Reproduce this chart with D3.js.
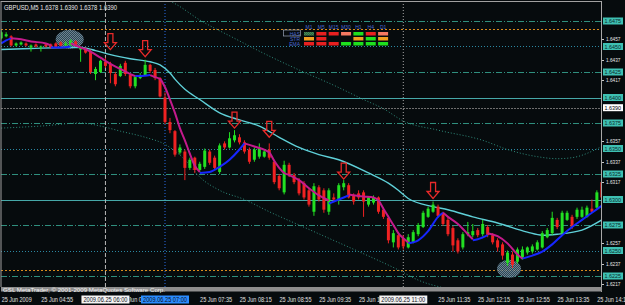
<!DOCTYPE html>
<html><head><meta charset="utf-8">
<script src="https://cdn.jsdelivr.net/npm/d3@7"></script>
<style>
html,body{margin:0;padding:0;background:#000;}
svg{display:block;}
text{font-family:"Liberation Sans",Arial,sans-serif;}
</style></head><body>
<svg id="c" width="625" height="305"></svg>
<script>
// ---------------- DATA ----------------
const symbolTitle = "GBPUSD,M5  1.6378 1.6390 1.6378 1.6390";
const copyright = "GSL MetaTrader, \u00A9 2001-2009 MetaQuotes Software Corp.";
const firstBarTime = "2009-06-25 04:15";
const barMinutes = 5;
// [open, high, low, close] per M5 bar
const candles = [
[1.6458,1.6466,1.6457,1.6464],[1.6460,1.6464,1.6459,1.6462],[1.6460,1.6461,1.6450,1.6451],[1.6451,1.6454,1.6450,1.6453],
[1.6452,1.6455,1.6451,1.6454],[1.6453,1.6454,1.6450,1.6451],[1.6449,1.6452,1.6445,1.6451],[1.6452,1.6453,1.6449,1.6450],
[1.6449,1.6451,1.6445,1.6450],[1.6452,1.6453,1.6449,1.6450],[1.6452,1.6453,1.6448,1.6449],[1.6453,1.6454,1.6448,1.6449],
[1.6454,1.6455,1.6450,1.6451],[1.6451,1.6455,1.6450,1.6453],[1.6451,1.6457,1.6450,1.6456],[1.6455,1.6456,1.6450,1.6451],
[1.6447,1.6450,1.6435,1.6449],[1.6448,1.6449,1.6443,1.6444],[1.6445,1.6447,1.6423,1.6425],[1.6423,1.6430,1.6417,1.6428],
[1.6425,1.6437,1.6424,1.6436],[1.6435,1.6439,1.6429,1.6431],[1.6433,1.6435,1.6414,1.6424],[1.6423,1.6425,1.6411,1.6413],
[1.6421,1.6433,1.6420,1.6431],[1.6434,1.6436,1.6421,1.6423],[1.6422,1.6423,1.6409,1.6411],[1.6411,1.6421,1.6409,1.6420],
[1.6419,1.6424,1.6418,1.6422],[1.6422,1.6437,1.6421,1.6432],[1.6432,1.6433,1.6424,1.6426],[1.6427,1.6429,1.6417,1.6419],
[1.6419,1.6420,1.6400,1.6401],[1.6400,1.6405,1.6374,1.6376],[1.6376,1.6380,1.6365,1.6368],[1.6367,1.6368,1.6342,1.6344],
[1.6346,1.6354,1.6344,1.6351],[1.6347,1.6349,1.6319,1.6331],[1.6331,1.6341,1.6329,1.6339],[1.6341,1.6342,1.6326,1.6329],
[1.6329,1.6337,1.6327,1.6335],[1.6332,1.6350,1.6330,1.6348],[1.6347,1.6349,1.6334,1.6336],[1.6341,1.6343,1.6329,1.6331],
[1.6327,1.6355,1.6325,1.6353],[1.6355,1.6357,1.6349,1.6351],[1.6351,1.6366,1.6350,1.6360],[1.6358,1.6368,1.6356,1.6363],
[1.6361,1.6364,1.6354,1.6356],[1.6356,1.6358,1.6345,1.6347],[1.6349,1.6351,1.6335,1.6337],[1.6339,1.6351,1.6337,1.6349],
[1.6342,1.6355,1.6340,1.6351],[1.6342,1.6349,1.6341,1.6347],[1.6349,1.6355,1.6339,1.6341],[1.6337,1.6339,1.6315,1.6317],
[1.6323,1.6325,1.6309,1.6311],[1.6307,1.6338,1.6305,1.6334],[1.6334,1.6336,1.6322,1.6324],[1.6324,1.6326,1.6315,1.6317],
[1.6319,1.6321,1.6304,1.6306],[1.6316,1.6318,1.6300,1.6302],[1.6309,1.6311,1.6293,1.6295],[1.6288,1.6316,1.6284,1.6313],
[1.6312,1.6314,1.6298,1.6300],[1.6309,1.6311,1.6287,1.6290],[1.6288,1.6311,1.6285,1.6309],[1.6302,1.6306,1.6298,1.6300],
[1.6300,1.6316,1.6295,1.6314],[1.6312,1.6319,1.6309,1.6316],[1.6314,1.6316,1.6301,1.6302],[1.6304,1.6306,1.6295,1.6298],
[1.6306,1.6309,1.6300,1.6302],[1.6307,1.6309,1.6283,1.6298],[1.6295,1.6303,1.6293,1.6302],[1.6297,1.6304,1.6295,1.6302],
[1.6302,1.6303,1.6286,1.6288],[1.6290,1.6292,1.6281,1.6283],[1.6282,1.6284,1.6257,1.6260],[1.6258,1.6270,1.6253,1.6267],
[1.6265,1.6267,1.6251,1.6253],[1.6262,1.6265,1.6251,1.6254],[1.6253,1.6266,1.6252,1.6263],[1.6258,1.6270,1.6257,1.6268],
[1.6266,1.6277,1.6264,1.6275],[1.6273,1.6289,1.6272,1.6287],[1.6283,1.6293,1.6282,1.6291],[1.6288,1.6298,1.6287,1.6295],
[1.6293,1.6295,1.6282,1.6284],[1.6286,1.6288,1.6274,1.6276],[1.6280,1.6282,1.6264,1.6266],[1.6272,1.6274,1.6249,1.6255],
[1.6260,1.6262,1.6247,1.6249],[1.6253,1.6268,1.6251,1.6266],[1.6266,1.6278,1.6264,1.6268],[1.6265,1.6276,1.6263,1.6269],
[1.6270,1.6272,1.6263,1.6265],[1.6266,1.6280,1.6264,1.6276],[1.6273,1.6275,1.6263,1.6265],[1.6265,1.6267,1.6256,1.6258],
[1.6260,1.6262,1.6249,1.6253],[1.6256,1.6258,1.6241,1.6245],[1.6238,1.6250,1.6235,1.6248],[1.6246,1.6249,1.6233,1.6236],
[1.6239,1.6253,1.6237,1.6251],[1.6243,1.6254,1.6241,1.6251],[1.6248,1.6254,1.6246,1.6253],[1.6249,1.6256,1.6247,1.6254],
[1.6251,1.6260,1.6250,1.6258],[1.6253,1.6269,1.6252,1.6267],[1.6263,1.6272,1.6262,1.6270],[1.6267,1.6288,1.6265,1.6282],
[1.6280,1.6282,1.6271,1.6273],[1.6267,1.6289,1.6265,1.6287],[1.6280,1.6289,1.6279,1.6287],[1.6283,1.6285,1.6271,1.6273],
[1.6283,1.6292,1.6281,1.6290],[1.6283,1.6293,1.6282,1.6290],[1.6283,1.6294,1.6282,1.6292],[1.6291,1.6300,1.6287,1.6288],
[1.6292,1.6309,1.6291,1.6307],[1.6317,1.6321,1.6301,1.6302]
];
// fast MA, rising segments [bar, price]
const fastUp = [
 [[0,1.6453],[1,1.6456],[2,1.6458]],
 [[10,1.6449],[12,1.6449],[14,1.6450]],
 [[27,1.6421],[28,1.6421],[30,1.6422]],
 [[40,1.6326],[42,1.6327],[44,1.6332],[46,1.6339],[48,1.6349],[49,1.6355]],
 [[66,1.6296],[68,1.6300],[70,1.6304]],
 [[82,1.6257],[84,1.6260],[86,1.6269],[88,1.6283],[89,1.6287]],
 [[95,1.6260],[96,1.6261],[98,1.6265]],
 [[105,1.6242],[107,1.6245],[109,1.6249],[111,1.6256],[113,1.6265],[115,1.6273],[117,1.6280],[119,1.6287],[121,1.6294]]
];
// fast MA, falling segments
const fastDown = [
 [[2,1.6458],[4,1.6457],[6,1.6455],[9,1.6453],[10,1.6451]],
 [[14,1.6453],[16,1.6449],[18,1.6445],[20,1.6439],[22,1.6433],[24,1.6428],[26,1.6423],[27,1.6421]],
 [[30,1.6422],[31,1.6420],[32,1.6418],[33,1.6410],[34,1.6398],[35,1.6385],[36,1.6370],[37,1.6358],[38,1.6345],[39,1.6333],[40,1.6327]],
 [[49,1.6355],[51,1.6352],[54,1.6346],[55,1.6338],[56,1.6331],[57,1.6326],[58,1.6324],[60,1.6319],[62,1.6311],[64,1.6304],[66,1.6299]],
 [[70,1.6305],[73,1.6303],[75,1.6302],[76,1.6299],[77,1.6291],[78,1.6283],[79,1.6275],[80,1.6267],[81,1.6262],[82,1.6258]],
 [[89,1.6287],[90,1.6283],[92,1.6276],[94,1.6266],[95,1.6261]],
 [[98,1.6267],[100,1.6264],[102,1.6257],[104,1.6246],[105,1.6242]]
];
// slow MA
const slowMA = [[0,1.6447],[6,1.6448],[13,1.6449],[16,1.6449],[19,1.6446],[22,1.6442],[26,1.6438],[30,1.6435],[32,1.6432],
 [34,1.6424],[35,1.6418],[37,1.6408],[40,1.6398],[44,1.6385],[48,1.6378],[52,1.6372],[56,1.6361],[60,1.6351],[64,1.6344],
 [68,1.6339],[74,1.6326],[78,1.6316],[80,1.6309],[82,1.6301],[87,1.6293],[90,1.6290],[95,1.6283],[100,1.6277],[106,1.6268],
 [109,1.6265],[112,1.6266],[117,1.6270],[121,1.6280]];
// envelope bands
const upperBand = [[30,1.6502],[35,1.6492],[40,1.6476],[47,1.6458],[53,1.6443],[60,1.6427],[67,1.6412],[73,1.6398],[77,1.6389],
 [81,1.6377],[88,1.6368],[97,1.6358],[102,1.6349],[108,1.6342],[112,1.6340],[115,1.6341],[121,1.6352]];
const lowerBand = [[0,1.6370],[8,1.6372],[16,1.6375],[20,1.6372],[24,1.6367],[29,1.6361],[33,1.6354],[37,1.6339],[40,1.6322],
 [44,1.6309],[49,1.6300],[54,1.6288],[60,1.6275],[66,1.6262],[72,1.6249],[80,1.6231],[84,1.6221],[91,1.6211],[97,1.6203]];
// sell arrows [bar, price of tip]
const sellArrows = [[22,1.6447],[29,1.6440],[47,1.6370],[54,1.6361],[69,1.6320],[87,1.6301]];
// highlighted zones [bar, price]
const zones = [[13.8,1.6457],[102.3,1.6232]];
// horizontal levels
const levels = [1.6475,1.6450,1.6425,1.6400,1.6375,1.6350,1.6325,1.6300,1.6275,1.6250,1.6225];
const levelKinds = ["dashdot","dot","dashdot","solid","dashdot","dot","dashdot","solid","dashdot","dot","dashdot"];
const orangeLevels = [1.6467,1.6231];
const bidPrice = 1.6390;
const priceTicks = [1.6457,1.6437,1.6417,1.6357,1.6337,1.6317,1.6257,1.6237,1.6217];
const timeTicks = ["04:55","05:35","06:15","06:55","07:35","08:15","08:55","09:35","10:15","10:55","11:35","12:15","12:55","13:35","14:15"];
const markerTimes = ["06:00","07:00","11:00"];
const markerKinds = ["white","blue","white"];
// signal table
const tfLabels = ["M1","M5","M15","M30","H1","H4","D1"];
const rowLabels = ["HAS","STR","EMA"];
const signals = [
 ["weakUp","down","down","weakDown","up","down","weakDown"],
 ["flat","down",null,null,"flat","up","flat"],
 ["down","down","down","up","up","up","up"]
];

// ---------------- DRAW ----------------
const W=625,H=305;
const svg=d3.select("#c");
const BG="#060b0d", GREEN="#22e022", RED="#f02222";
const parse=d3.timeParse("%Y-%m-%d %H:%M");
const t0=parse(firstBarTime);
const timeOf=i=>new Date(t0.getTime()+i*barMinutes*60000);
const atClock=s=>parse("2009-06-25 "+s);
const plot={l:1,r:601,t:1,b:287};
const x=d3.scaleTime().domain([timeOf(0),timeOf(121)]).range([1.2,1.2+121*4.964]);
const y=d3.scaleLinear().domain([1.6225,1.6475]).range([276,21]);
const xb=b=>x(timeOf(b));

svg.append("rect").attr("width",W).attr("height",H).attr("fill",BG);
const defs=svg.append("defs");
defs.append("clipPath").attr("id","pc").append("rect")
  .attr("x",plot.l).attr("y",plot.t).attr("width",plot.r-plot.l).attr("height",plot.b-plot.t);
const dp=defs.append("pattern").attr("id","dots").attr("width",2).attr("height",2).attr("patternUnits","userSpaceOnUse");
dp.append("rect").attr("width",2).attr("height",2).attr("fill","#33505f");
dp.append("rect").attr("width",1).attr("height",1).attr("fill","#7f98aa");
dp.append("rect").attr("x",1).attr("y",1).attr("width",1).attr("height",1).attr("fill","#7f98aa");

const g=svg.append("g").attr("clip-path","url(#pc)");

// level lines
const kindStyle={dashdot:{c:"#2f8f7e",d:"6,2,1,2"},dot:{c:"#2b88a2",d:"1,2"},solid:{c:"#46a8a8",d:null}};
g.selectAll(".lvl").data(levels).join("line")
  .attr("x1",plot.l).attr("x2",plot.r).attr("y1",d=>Math.round(y(d))+0.5).attr("y2",d=>Math.round(y(d))+0.5)
  .attr("stroke",(d,i)=>kindStyle[levelKinds[i]].c).attr("stroke-dasharray",(d,i)=>kindStyle[levelKinds[i]].d);
g.selectAll(".org").data(orangeLevels).join("line")
  .attr("x1",plot.l).attr("x2",plot.r).attr("y1",d=>Math.round(y(d))+0.5).attr("y2",d=>Math.round(y(d))+0.5)
  .attr("stroke","#d88a1c").attr("stroke-dasharray","2,2");
g.append("line").attr("x1",plot.l).attr("x2",plot.r)
  .attr("y1",Math.round(y(bidPrice))+0.5).attr("y2",Math.round(y(bidPrice))+0.5)
  .attr("stroke","#6e6e6e").attr("stroke-dasharray","2,1");

// vertical time markers
const vStyle=[{c:"#b8b8b8",d:"4,2"},{c:"#2a6ee8",d:"1,2"},{c:"#a8a8a8",d:"1,2"}];
g.selectAll(".vm").data(markerTimes).join("line")
  .attr("x1",d=>x(atClock(d))).attr("x2",d=>x(atClock(d))).attr("y1",plot.t).attr("y2",plot.b)
  .attr("stroke",(d,i)=>vStyle[i].c).attr("stroke-dasharray",(d,i)=>vStyle[i].d);

// bands
const line=d3.line().x(d=>xb(d[0])).y(d=>y(d[1])).curve(d3.curveMonotoneX);
[upperBand,lowerBand].forEach(b=>g.append("path").attr("d",line(b)).attr("fill","none")
  .attr("stroke","#2f8c7c").attr("stroke-width",1).attr("stroke-dasharray","1,2"));

// zones
g.selectAll(".zone").data(zones).join("ellipse")
  .attr("cx",d=>xb(d[0])).attr("cy",d=>y(d[1])).attr("rx",(d,i)=>i?12:14).attr("ry",(d,i)=>i?9:9.5)
  .attr("fill","url(#dots)").attr("opacity",0.85);

// slow MA
g.append("path").attr("d",line(slowMA)).attr("fill","none").attr("stroke","#5fd0d8").attr("stroke-width",1.4);

// candles
const cg=g.append("g");
cg.selectAll(".wick").data(candles).join("line")
  .attr("x1",(d,i)=>xb(i)).attr("x2",(d,i)=>xb(i)).attr("y1",d=>y(d[1])).attr("y2",d=>y(d[2]))
  .attr("stroke",d=>d[3]>=d[0]?GREEN:RED).attr("stroke-width",1);
cg.selectAll(".body").data(candles).join("rect")
  .attr("x",(d,i)=>xb(i)-1.5).attr("width",3)
  .attr("y",d=>y(Math.max(d[0],d[3]))).attr("height",d=>Math.max(1,Math.abs(y(d[0])-y(d[3]))))
  .attr("fill",d=>d[3]>=d[0]?GREEN:RED);

// fast MA
fastUp.forEach(s=>g.append("path").attr("d",line(s)).attr("fill","none").attr("stroke","#1626ff").attr("stroke-width",2));
fastDown.forEach(s=>g.append("path").attr("d",line(s)).attr("fill","none").attr("stroke","#c41a8c").attr("stroke-width",2));

// sell arrows
g.selectAll(".arr").data(sellArrows).join("path")
  .attr("transform",d=>`translate(${xb(d[0])},${y(d[1])})`)
  .attr("d","M0,0 L-6,-7 L-2.5,-7 L-2.5,-16 L2.5,-16 L2.5,-7 L6,-7 Z")
  .attr("fill","none").attr("stroke","#e82a2a").attr("stroke-width",1.3);

// signal table
const colX=i=>304+i*12.35, rowY=j=>32+j*5;
const sigColor={up:"#1ee01e",down:"#e82020",weakDown:"#f47a62",weakUp:"#2a7a2a",flat:"#f0a020"};
svg.selectAll(".tfh").data(tfLabels).join("text")
  .attr("x",(d,i)=>colX(i)+5).attr("y",29).attr("text-anchor","middle")
  .attr("font-size",5).attr("fill","#4666d0").text(d=>d);
svg.selectAll(".rl").data(rowLabels).join("text")
  .attr("x",300).attr("y",(d,j)=>rowY(j)+3.5).attr("text-anchor","end")
  .attr("font-size",5).attr("fill","#4666d0").text(d=>d);
svg.append("rect").attr("x",283.5).attr("y",30).attr("width",17).attr("height",6)
  .attr("fill","none").attr("stroke","#9aa4b8").attr("stroke-width",0.7);
signals.forEach((row,j)=>row.forEach((s,i)=>{ if(!s) return;
  svg.append("rect").attr("x",colX(i)).attr("y",rowY(j)).attr("width",10).attr("height",3.5).attr("fill",sigColor[s]);
  if(s==="weakUp") svg.append("rect").attr("x",colX(i)).attr("y",rowY(j)).attr("width",10).attr("height",3.5).attr("fill","url(#dots)").attr("opacity",0.35);
}));

// borders
svg.append("line").attr("x1",plot.l).attr("x2",plot.r).attr("y1",1.5).attr("y2",1.5).attr("stroke","#a0a0a0");
svg.append("line").attr("x1",1).attr("x2",1).attr("y1",1).attr("y2",plot.b).attr("stroke","#a0a0a0");
svg.append("line").attr("x1",plot.r+0.5).attr("x2",plot.r+0.5).attr("y1",1).attr("y2",292).attr("stroke","#a8a8a8");
svg.append("rect").attr("x",plot.l).attr("y",287).attr("width",plot.r-plot.l+1).attr("height",4.5).attr("fill","#8e8e8e");

// title & copyright
svg.append("text").attr("x",4).attr("y",9.5).attr("font-size",6.5).attr("fill","#e8e8e8")
  .attr("textLength",113).attr("lengthAdjust","spacingAndGlyphs").text(symbolTitle);
svg.append("text").attr("x",3).attr("y",291.5).attr("font-size",6).attr("fill","#f4f4f4")
  .attr("textLength",162).attr("lengthAdjust","spacingAndGlyphs").text(copyright);

// price axis
const ax=svg.append("g");
ax.selectAll(".pt").data(priceTicks).join("text")
  .attr("x",606).attr("y",d=>y(d)+2).attr("font-size",6).attr("fill","#e8e8e8")
  .attr("textLength",14.5).attr("lengthAdjust","spacingAndGlyphs").text(d=>d.toFixed(4));
ax.selectAll(".ptk").data(priceTicks).join("line")
  .attr("x1",602).attr("x2",604).attr("y1",d=>Math.round(y(d))+0.5).attr("y2",d=>Math.round(y(d))+0.5).attr("stroke","#c8c8c8");
const boxes=levels.map(v=>({v,fill:"#3ec0b2",txt:"#0c2a2a"})).concat([{v:bidPrice,fill:"#ffffff",txt:"#000000"}]);
const bx=ax.selectAll(".bx").data(boxes).join("g").attr("transform",d=>`translate(603,${y(d.v)})`);
bx.append("rect").attr("x",0).attr("y",-3.5).attr("width",20).attr("height",7).attr("fill",d=>d.fill);
bx.append("text").attr("x",1.5).attr("y",2.3).attr("font-size",6).attr("fill",d=>d.txt)
  .attr("textLength",16.5).attr("lengthAdjust","spacingAndGlyphs").text(d=>d.v.toFixed(4));

// time axis
const fmtT=d3.timeFormat("%d %b %H:%M");
const LBL=32, BOXW=48;
const boxSpans=markerTimes.map(t=>[x(atClock(t))-BOXW/2,x(atClock(t))+BOXW/2]);
// labels entirely hidden behind the marker boxes are not visible in the chart
const visibleTicks=timeTicks.filter(t=>{const a=x(atClock(t)),b=a+LBL;
  return !boxSpans.some(s=>a>=s[0]-2&&b<=s[1]+8);});
// clip region = axis strip minus marker boxes
const tcp=defs.append("clipPath").attr("id","tclip");
const edges=[0].concat(...boxSpans).concat([W]);
for(let k=0;k<edges.length;k+=2) tcp.append("rect").attr("x",edges[k]).attr("y",292).attr("width",Math.max(0,edges[k+1]-edges[k])).attr("height",13);
const tg=svg.append("g");
const tl=tg.append("g").attr("clip-path","url(#tclip)");
tl.append("text").attr("x",x(timeOf(0))+0.5).attr("y",302).attr("font-size",6.5).attr("fill","#e0e0e0")
  .attr("textLength",30).attr("lengthAdjust","spacingAndGlyphs").text(d3.timeFormat("%d %b %Y")(timeOf(0)));
tl.selectAll(".tt").data(visibleTicks).join("text")
  .attr("x",d=>x(atClock(d))+0.3).attr("y",302).attr("font-size",6.5).attr("fill","#e0e0e0")
  .attr("textLength",LBL).attr("lengthAdjust","spacingAndGlyphs").text(d=>fmtT(atClock(d)));
const fmtBox=d3.timeFormat("%Y.%m.%d %H:%M");
const mb=tg.selectAll(".mb").data(markerTimes).join("g").attr("transform",d=>`translate(${x(atClock(d))},0)`);
mb.append("rect").attr("x",-BOXW/2).attr("y",295.5).attr("width",BOXW).attr("height",8)
  .attr("fill",(d,i)=>markerKinds[i]==="blue"?"#2a8cff":"#f4f4f4");
mb.append("text").attr("x",-BOXW/2+2).attr("y",302).attr("font-size",6.5).attr("fill","#101020")
  .attr("textLength",BOXW-4).attr("lengthAdjust","spacingAndGlyphs").text(d=>fmtBox(atClock(d)));
</script></body></html>
